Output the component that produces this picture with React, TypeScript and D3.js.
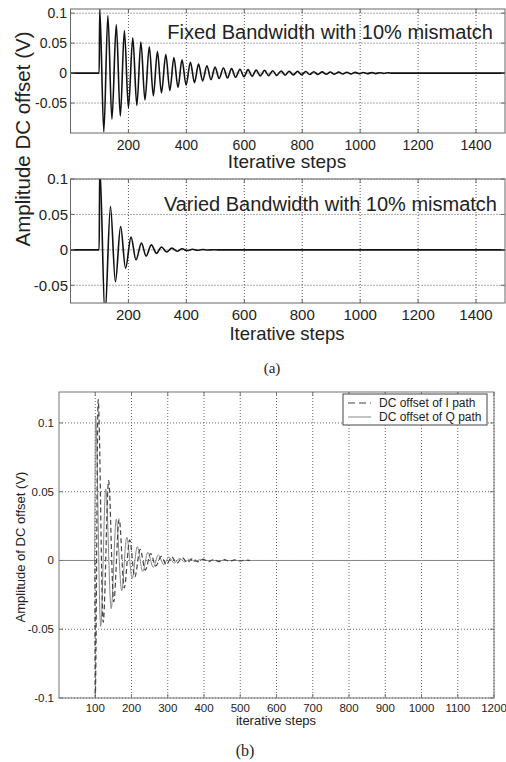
import React from "react";
import * as d3 from "d3";

type Pt = [number, number];

// (a) top: fixed bandwidth, turning points
const fixedBW: Pt[] = [
  [0, 0], [99, 0], [101, 0.107], [115, -0.098], [129, 0.096], [143, -0.077],
  [158, 0.081], [172, -0.072], [186, 0.071], [200, -0.058], [215, 0.059],
  [229, -0.054], [243, 0.052], [257, -0.045], [272, 0.044], [286, -0.038],
  [300, 0.036], [314, -0.033], [329, 0.031], [343, -0.029], [357, 0.026],
  [371, -0.024], [385, 0.022], [399, -0.02], [414, 0.018], [428, -0.016],
  [442, 0.015], [456, -0.013], [471, 0.012], [485, -0.011], [499, 0.01],
  [513, -0.009], [528, 0.0085], [542, -0.008], [556, 0.0075], [570, -0.007],
  [585, 0.0065], [599, -0.006], [613, 0.0058], [627, -0.0053], [641, 0.005],
  [655, -0.0047], [670, 0.0045], [684, -0.0042], [698, 0.004], [712, -0.0038],
  [727, 0.0036], [741, -0.0034], [755, 0.0032], [769, -0.003], [784, 0.0029],
  [798, -0.0027], [812, 0.0026], [826, -0.0024], [840, 0.0023], [854, -0.0022],
  [869, 0.002], [883, -0.0019], [897, 0.0018], [911, -0.0017], [926, 0.0016],
  [940, -0.0015], [954, 0.0014], [968, -0.0013], [983, 0.0012], [997, -0.0011],
  [1011, 0.001], [1025, -0.0009], [1040, 0.0008], [1054, -0.0008], [1068, 0.0007],
  [1082, -0.0006], [1097, 0.0006], [1110, 0], [1500, 0],
];

// (a) bottom: varied bandwidth
const variedBW: Pt[] = [
  [0, 0], [99, 0], [101, 0.118], [119, -0.092], [138, 0.061], [155, -0.045],
  [173, 0.033], [190, -0.026], [209, 0.018], [226, -0.014], [245, 0.0095],
  [261, -0.009], [279, 0.007], [297, -0.005], [314, 0.004], [332, -0.003],
  [350, 0.0025], [368, -0.002], [385, 0.0015], [403, -0.001], [421, 0.0008],
  [438, -0.0006], [456, 0.0004], [474, -0.0003], [492, 0.0002], [510, 0],
  [1500, 0],
];

// (b): I path (dashed) and Q path (solid)
const iPath: Pt[] = [
  [99, 0], [100, -0.1], [108, 0.117], [122, -0.045], [137, 0.058],
  [151, -0.03], [166, 0.03], [180, -0.02], [195, 0.015], [209, -0.012],
  [224, 0.008], [238, -0.007], [253, 0.005], [267, -0.004], [282, 0.003],
  [296, -0.003], [311, 0.0025], [325, -0.002], [340, 0.002], [354, -0.0015],
  [369, 0.0015], [383, -0.001], [398, 0.001], [412, -0.001], [427, 0.0008],
  [441, -0.0008], [456, 0.0006], [470, -0.0006], [485, 0.0004], [499, -0.0004],
  [514, 0.0003], [527, 0],
];
const qPath: Pt[] = [
  [0, 0], [98, 0], [101, 0.105], [115, -0.048], [129, 0.052], [144, -0.035],
  [158, 0.03], [173, -0.022], [187, 0.017], [202, -0.013], [216, 0.01],
  [231, -0.008], [245, 0.006], [260, -0.005], [274, 0.004], [289, -0.003],
  [303, 0.0025], [318, -0.002], [332, 0.0015], [347, -0.001], [361, 0.001],
  [376, -0.0008], [390, 0.0006], [405, 0], [1200, 0],
];

const aXTicks = [200, 400, 600, 800, 1000, 1200, 1400];
const aYTicks = [-0.05, 0, 0.05, 0.1];
const bXTicks = [100, 200, 300, 400, 500, 600, 700, 800, 900, 1000, 1100, 1200];
const bYTicks = [-0.1, -0.05, 0, 0.05, 0.1];

const SANS = "'Liberation Sans', Arial, sans-serif";
const SERIF = "'Liberation Serif', 'Times New Roman', serif";

interface Series { data: Pt[]; stroke: string; width: number; dash?: string }
interface PanelProps {
  id: string;
  box: { left: number; right: number; top: number; bottom: number };
  xDomain: [number, number];
  yDomain: [number, number];
  xTicks: number[];
  yTicks: number[];
  tickFont: number;
  xLabelY: number;
  yLabelX: number;
  series: Series[];
  grid: string;
  frame: string;
}

const Panel = ({ id, box, xDomain, yDomain, xTicks, yTicks, tickFont, xLabelY, yLabelX, series, grid, frame }: PanelProps) => {
  const x = d3.scaleLinear().domain(xDomain).range([box.left, box.right]);
  const y = d3.scaleLinear().domain(yDomain).range([box.bottom, box.top]);
  const line = d3.line<Pt>().x((d) => x(d[0])).y((d) => y(d[1])).curve(d3.curveMonotoneX);
  return (
    <g>
      <defs>
        <clipPath id={id}>
          <rect x={box.left} y={box.top} width={box.right - box.left} height={box.bottom - box.top} />
        </clipPath>
      </defs>
      {xTicks.map((t) => (
        <line key={"gx" + t} x1={x(t)} x2={x(t)} y1={box.top} y2={box.bottom} stroke={grid} strokeWidth={1} strokeDasharray="1,2" />
      ))}
      {yTicks.map((t) => (
        <line key={"gy" + t} x1={box.left} x2={box.right} y1={y(t)} y2={y(t)} stroke={grid} strokeWidth={1} strokeDasharray="1,2" />
      ))}
      <g clipPath={`url(#${id})`}>
        {series.map((s, i) => (
          <path key={i} d={line(s.data) || ""} fill="none" stroke={s.stroke} strokeWidth={s.width} strokeDasharray={s.dash} />
        ))}
      </g>
      <rect x={box.left} y={box.top} width={box.right - box.left} height={box.bottom - box.top} fill="none" stroke={frame} strokeWidth={1} />
      {xTicks.map((t) => (
        <g key={"tx" + t}>
          <line x1={x(t)} x2={x(t)} y1={box.bottom} y2={box.bottom - 4} stroke={frame} />
          <line x1={x(t)} x2={x(t)} y1={box.top} y2={box.top + 4} stroke={frame} />
          <text x={x(t)} y={xLabelY} textAnchor="middle" fontSize={tickFont} fontFamily={SANS} fill="#222">{t}</text>
        </g>
      ))}
      {yTicks.map((t) => (
        <g key={"ty" + t}>
          <line x1={box.left} x2={box.left + 4} y1={y(t)} y2={y(t)} stroke={frame} />
          <line x1={box.right} x2={box.right - 4} y1={y(t)} y2={y(t)} stroke={frame} />
          <text x={yLabelX} y={y(t)} dy="0.35em" textAnchor="end" fontSize={tickFont} fontFamily={SANS} fill="#222">{String(t)}</text>
        </g>
      ))}
    </g>
  );
};

export default function App() {
  const boxA1 = { left: 70.5, right: 505, top: 9, bottom: 133 };
  const boxA2 = { left: 70.5, right: 505, top: 179, bottom: 303 };
  const boxB = { left: 59, right: 494, top: 392, bottom: 698 };
  return (
    <svg width={506} height={762} style={{ position: "absolute", left: 0, top: 0, background: "#fff" }}>
      <Panel id="clipA1" box={boxA1} xDomain={[0, 1500]} yDomain={[-0.1, 0.107]} xTicks={aXTicks} yTicks={aYTicks}
        tickFont={14} xLabelY={149.5} yLabelX={67} grid="#555" frame="#666"
        series={[{ data: fixedBW, stroke: "#111", width: 1.6 }]} />
      <text x={493} y={38.5} textAnchor="end" fontSize={20} fontFamily={SANS} fill="#222">Fixed Bandwidth with 10% mismatch</text>
      <text x={287} y={168} textAnchor="middle" fontSize={19} fontFamily={SANS} fill="#222">Iterative steps</text>

      <Panel id="clipA2" box={boxA2} xDomain={[0, 1500]} yDomain={[-0.075, 0.1]} xTicks={aXTicks} yTicks={aYTicks}
        tickFont={15} xLabelY={320} yLabelX={68} grid="#555" frame="#666"
        series={[{ data: variedBW, stroke: "#111", width: 1.6 }]} />
      <text x={497} y={210.5} textAnchor="end" fontSize={20} fontFamily={SANS} fill="#222">Varied Bandwidth with 10% mismatch</text>
      <text x={287} y={339.5} textAnchor="middle" fontSize={18.5} fontFamily={SANS} fill="#222">Iterative steps</text>

      <text transform="translate(30,139) rotate(-90)" textAnchor="middle" fontSize={20.5} fontFamily={SANS} fill="#222">Amplitude DC offset (V)</text>
      <text x={272} y={373} textAnchor="middle" fontSize={15} fontFamily={SERIF} fill="#222">(a)</text>

      <Panel id="clipB" box={boxB} xDomain={[0, 1200]} yDomain={[-0.1, 0.1225]} xTicks={bXTicks} yTicks={bYTicks}
        tickFont={11.5} xLabelY={712} yLabelX={54} grid="#666" frame="#777"
        series={[
          { data: qPath, stroke: "#888", width: 1 },
          { data: iPath, stroke: "#444", width: 1.2, dash: "5,3" },
        ]} />
      <text x={276} y={725} textAnchor="middle" fontSize={13} fontFamily={SANS} fill="#222">iterative steps</text>
      <text transform="translate(25,547) rotate(-90)" textAnchor="middle" fontSize={13} fontFamily={SANS} fill="#222">Amplitude of DC offset (V)</text>
      <text x={245} y={756} textAnchor="middle" fontSize={16} fontFamily={SERIF} fill="#222">(b)</text>

      <g>
        <rect x={343} y={394} width={144} height={31} fill="#fff" stroke="#444" />
        <line x1={348} x2={371} y1={403} y2={403} stroke="#444" strokeWidth={1.2} strokeDasharray="7,4" />
        <text x={379} y={407} fontSize={12} fontFamily={SANS} fill="#222">DC offset of I path</text>
        <line x1={348} x2={371} y1={417} y2={417} stroke="#888" strokeWidth={1} />
        <text x={379} y={421} fontSize={12} fontFamily={SANS} fill="#222">DC offset of Q path</text>
      </g>
    </svg>
  );
}
